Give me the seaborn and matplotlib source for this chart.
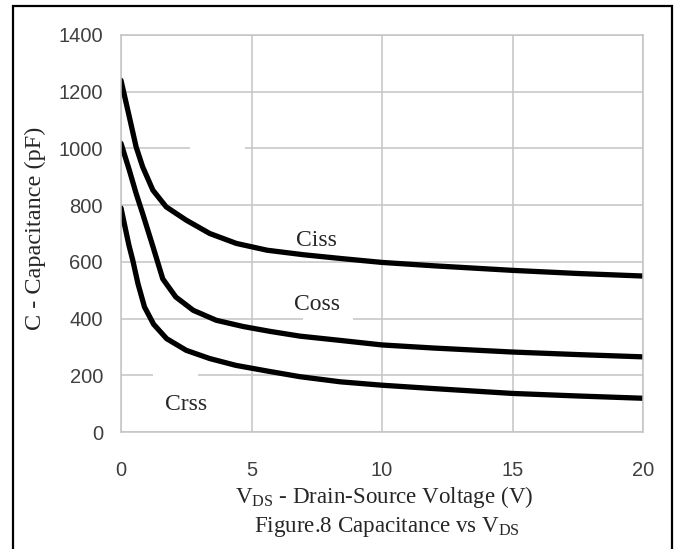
import seaborn as sns
import matplotlib.pyplot as plt
import matplotlib.patches as patches
import pandas as pd

ciss_v = [0, 0.32, 0.58, 0.83, 1.22, 1.73, 2.5, 3.4, 4.42, 5.6, 7, 8.4, 10, 12, 15, 17.5, 20]
ciss_c = [1240, 1111, 1005, 935, 853, 794, 747, 700, 665, 641, 625, 612, 598, 586, 570, 559, 550]

coss_v = [0, 0.32, 0.58, 0.83, 1.22, 1.6, 2.1, 2.77, 3.65, 4.68, 5.7, 6.86, 8.4, 10, 12, 15, 17.5, 20]
coss_c = [1018, 923, 841, 770, 655, 540, 476, 429, 394, 372, 355, 338, 323, 307, 296, 282, 273, 265]

crss_v = [0, 0.3, 0.45, 0.65, 0.9, 1.25, 1.75, 2.5, 3.4, 4.4, 5.6, 6.86, 8.4, 10, 12, 15, 17.5, 20]
crss_c = [790, 660, 606, 523, 441, 380, 329, 288, 259, 235, 215, 195, 177, 165, 153, 136, 127, 119]

x_ticks = [0, 5, 10, 15, 20]
y_ticks = [0, 200, 400, 600, 800, 1000, 1200, 1400]

df = pd.concat([
    pd.DataFrame({'V': ciss_v, 'C': ciss_c, 'curve': 'Ciss'}),
    pd.DataFrame({'V': coss_v, 'C': coss_c, 'curve': 'Coss'}),
    pd.DataFrame({'V': crss_v, 'C': crss_c, 'curve': 'Crss'}),
])

sns.set_style('whitegrid')
plt.rcParams['font.family'] = ['Liberation Sans', 'DejaVu Sans']
plt.rcParams['mathtext.fontset'] = 'custom'
plt.rcParams['mathtext.rm'] = 'Liberation Serif'

fig = plt.figure(figsize=(6.8, 5.49), dpi=100)
ax = fig.add_axes([121 / 680, 1 - 432 / 549, (643 - 121) / 680, (432 - 35) / 549])

sns.lineplot(data=df, x='V', y='C', hue='curve', palette=['black'] * 3,
             linewidth=3.8, legend=False, ax=ax, sort=True)

ax.set_xlim(0, 20)
ax.set_ylim(0, 1400)
ax.set_xticks(x_ticks)
ax.set_yticks(y_ticks)
ax.grid(True, color='#c4c4c4', linewidth=1.1)
for s in ax.spines.values():
    s.set_color('#c4c4c4')
    s.set_linewidth(1.1)
ax.tick_params(axis='both', length=0, labelsize=14.5, labelcolor='#404040')
ax.tick_params(axis='x', pad=21)
ax.tick_params(axis='y', pad=13)

serif = ['Liberation Serif', 'DejaVu Serif']
ax.set_xlabel('')
ax.set_ylabel('')
fig.text(384 / 680, 1 - 503 / 549, r'V$_{\mathrm{DS}}$ - Drain-Source Voltage (V)',
         ha='center', va='baseline', fontsize=16.6, family=serif)
fig.text(387 / 680, 1 - 532 / 549, r'Figure.8 Capacitance vs V$_{\mathrm{DS}}$',
         ha='center', va='baseline', fontsize=16.6, family=serif)
fig.text(35 / 680, 1 - 228 / 549, 'C - Capacitance (pF)', rotation=90,
         ha='center', va='center', fontsize=17.5, family=serif)

# curve labels
ax.text(7.5, 676, 'Ciss', ha='center', va='center', fontsize=17, family=serif)
ax.text(7.5, 450, 'Coss', ha='center', va='center', fontsize=17, family=serif)
ax.text(2.49, 98, 'Crss', ha='center', va='center', fontsize=17, family=serif)

# white patches from the original scan that hide parts of the grid
ax.add_patch(patches.Rectangle((2.65, 930), 2.1, 130, facecolor='white',
                               edgecolor='none', zorder=1.5))
ax.add_patch(patches.Rectangle((6.97, 385), 1.92, 110, facecolor='white',
                               edgecolor='none', zorder=1.5))
ax.add_patch(patches.Rectangle((1.23, 60), 1.72, 175, facecolor='white',
                               edgecolor='none', zorder=1.5))

# outer frame
fig.patches.append(patches.Rectangle((13 / 680, -0.1), (672 - 13) / 680, 1.1 - 6 / 549,
                                     transform=fig.transFigure, fill=False,
                                     edgecolor='black', linewidth=1.6))

fig.savefig('out.png', dpi=100)
